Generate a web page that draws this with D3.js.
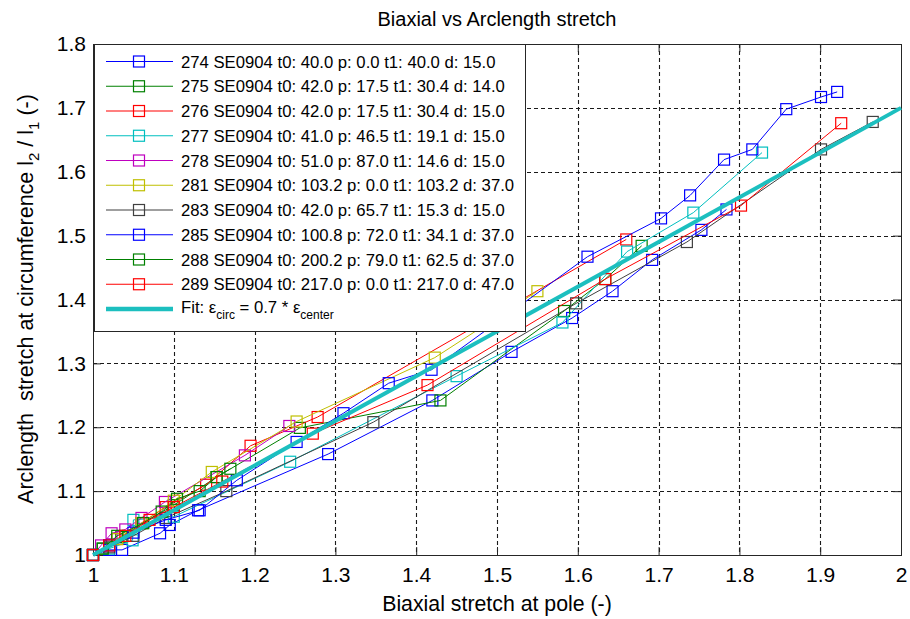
<!DOCTYPE html>
<html>
<head>
<meta charset="utf-8">
<script src="https://cdnjs.cloudflare.com/ajax/libs/d3/7.8.5/d3.min.js"></script>
<style>
  body { margin: 0; background: #fff; }
  text { font-family: "Liberation Sans", Arial, sans-serif; fill: #000; }
</style>
</head>
<body>
<svg id="chart"></svg>
<script>
var width = 910;
var height = 619;

// tick values
var xTicks = [1, 1.1, 1.2, 1.3, 1.4, 1.5, 1.6, 1.7, 1.8, 1.9, 2];
var yTicks = [1, 1.1, 1.2, 1.3, 1.4, 1.5, 1.6, 1.7, 1.8];

// legend labels, one per test
var seriesNames = [
  '274 SE0904 t0: 40.0 p: 0.0 t1: 40.0 d: 15.0',
  '275 SE0904 t0: 42.0 p: 17.5 t1: 30.4 d: 14.0',
  '276 SE0904 t0: 42.0 p: 17.5 t1: 30.4 d: 15.0',
  '277 SE0904 t0: 41.0 p: 46.5 t1: 19.1 d: 15.0',
  '278 SE0904 t0: 51.0 p: 87.0 t1: 14.6 d: 15.0',
  '281 SE0904 t0: 103.2 p: 0.0 t1: 103.2 d: 37.0',
  '283 SE0904 t0: 42.0 p: 65.7 t1: 15.3 d: 15.0',
  '285 SE0904 t0: 100.8 p: 72.0 t1: 34.1 d: 37.0',
  '288 SE0904 t0: 200.2 p: 79.0 t1: 62.5 d: 37.0',
  '289 SE0904 t0: 217.0 p: 0.0 t1: 217.0 d: 47.0'
];
var seriesColors = ['#0000ff', '#008000', '#ff0000', '#00bfbf', '#bf00bf',
  '#bfbf00', '#404040', '#0000ff', '#008000', '#ff0000'];

// biaxial stretch at pole (x) / arclength stretch at circumference (y)
var pole274 = [1.0, 1.02, 1.036, 1.083, 1.095, 1.13, 1.291, 1.42, 1.518, 1.593, 1.643, 1.692, 1.753, 1.784];
var circ274 = [1.0, 1.008, 1.008, 1.034, 1.047, 1.07, 1.158, 1.242, 1.318, 1.371, 1.413, 1.462, 1.509, 1.541];

var pole275 = [1.0, 1.012, 1.035, 1.062, 1.1, 1.153, 1.256, 1.43, 1.583, 1.634, 1.679];
var circ275 = [1.0, 1.01, 1.028, 1.05, 1.078, 1.122, 1.199, 1.242, 1.382, 1.432, 1.484];

var pole276 = [1.0, 1.03, 1.06, 1.09, 1.14, 1.195, 1.278, 1.66];
var circ276 = [1.0, 1.025, 1.05, 1.075, 1.11, 1.171, 1.216, 1.494];

var pole277 = [1.0, 1.02, 1.049, 1.05, 1.1, 1.244, 1.45, 1.581, 1.661, 1.743, 1.828];
var circ277 = [1.0, 1.01, 1.023, 1.055, 1.06, 1.146, 1.28, 1.364, 1.475, 1.536, 1.63];

var pole278 = [1.0, 1.01, 1.023, 1.04, 1.06, 1.089, 1.188, 1.243];
var circ278 = [1.0, 1.015, 1.034, 1.04, 1.058, 1.083, 1.156, 1.202];

var pole281 = [1.0, 1.03, 1.06, 1.1, 1.147, 1.252, 1.423, 1.55];
var circ281 = [1.0, 1.025, 1.05, 1.085, 1.13, 1.209, 1.309, 1.413];

var pole283 = [1.0, 1.02, 1.05, 1.09, 1.165, 1.347, 1.598, 1.735, 1.901, 1.965];
var circ283 = [1.0, 1.012, 1.03, 1.058, 1.1, 1.208, 1.394, 1.49, 1.635, 1.678];

var pole285 = [1.0, 1.02, 1.05, 1.09, 1.132, 1.178, 1.252, 1.31, 1.366, 1.419, 1.612, 1.703, 1.739, 1.781, 1.816, 1.858, 1.901, 1.921];
var circ285 = [1.0, 1.015, 1.035, 1.055, 1.07, 1.117, 1.177, 1.222, 1.269, 1.29, 1.467, 1.527, 1.563, 1.619, 1.635, 1.698, 1.717, 1.725];

var pole288 = [1.0, 1.012, 1.03, 1.062, 1.085, 1.104, 1.132, 1.153, 1.17];
var circ288 = [1.0, 1.01, 1.03, 1.05, 1.068, 1.088, 1.1, 1.122, 1.135];

var pole289 = [1.0, 1.02, 1.04, 1.07, 1.1, 1.16, 1.272, 1.414, 1.634, 1.802, 1.926];
var circ289 = [1.0, 1.015, 1.03, 1.055, 1.075, 1.115, 1.19, 1.266, 1.432, 1.547, 1.676];

// fit line: eps_circ = 0.7 * eps_center
var fitPole = [1.0, 2.0];
var fitCirc = [1.0, 1.7];

var poles = [pole274, pole275, pole276, pole277, pole278, pole281, pole283, pole285, pole288, pole289];
var circs = [circ274, circ275, circ276, circ277, circ278, circ281, circ283, circ285, circ288, circ289];

var series = seriesNames.map(function (name, i) {
  return {
    name: name,
    color: seriesColors[i],
    values: poles[i].map(function (p, j) { return { x: p, y: circs[i][j] }; })
  };
});

var plotLeft = 93, plotRight = 901, plotTop = 44, plotBottom = 555;

var svg = d3.select('#chart').attr('width', width).attr('height', height);
svg.append('rect').attr('width', width).attr('height', height).attr('fill', '#fff');

var x = d3.scaleLinear().domain([1, 2]).range([plotLeft, plotRight]);
var y = d3.scaleLinear().domain([1, 1.8]).range([plotBottom, plotTop]);

// grid
var grid = svg.append('g')
  .attr('stroke', '#1a1a1a')
  .attr('stroke-width', 1.1)
  .attr('stroke-dasharray', '4,3');
grid.selectAll('.vg').data(xTicks.slice(1, -1)).enter().append('line')
  .attr('x1', d => Math.round(x(d)) + 0.5).attr('x2', d => Math.round(x(d)) + 0.5)
  .attr('y1', plotTop).attr('y2', plotBottom);
grid.selectAll('.hg').data(yTicks.slice(1, -1)).enter().append('line')
  .attr('y1', d => Math.round(y(d)) + 0.5).attr('y2', d => Math.round(y(d)) + 0.5)
  .attr('x1', plotLeft).attr('x2', plotRight);

// axes, ticks pointing inward on all four sides
function styleAxis(g) {
  g.select('.domain').remove();
  g.selectAll('.tick line').attr('stroke', '#262626');
  g.selectAll('.tick text')
    .style('font-family', '"Liberation Sans", Arial, sans-serif')
    .style('font-size', '21px')
    .attr('fill', '#000');
}

svg.append('g').attr('transform', 'translate(0,' + plotBottom + ')')
  .call(d3.axisBottom(x).tickValues(xTicks).tickFormat(d3.format('')).tickSizeInner(-8).tickSizeOuter(0).tickPadding(12))
  .call(styleAxis);
svg.append('g').attr('transform', 'translate(0,' + plotTop + ')')
  .call(d3.axisTop(x).tickValues(xTicks).tickFormat('').tickSizeInner(-8).tickSizeOuter(0))
  .call(styleAxis);
svg.append('g').attr('transform', 'translate(' + plotLeft + ',0)')
  .call(d3.axisLeft(y).tickValues(yTicks).tickFormat(d3.format('')).tickSizeInner(-8).tickSizeOuter(0).tickPadding(7))
  .call(styleAxis);
svg.append('g').attr('transform', 'translate(' + plotRight + ',0)')
  .call(d3.axisRight(y).tickValues(yTicks).tickFormat('').tickSizeInner(-8).tickSizeOuter(0))
  .call(styleAxis);

svg.append('rect')
  .attr('x', plotLeft + 0.5).attr('y', plotTop + 0.5)
  .attr('width', plotRight - plotLeft).attr('height', plotBottom - plotTop)
  .attr('fill', 'none').attr('stroke', '#262626').attr('stroke-width', 1);

// data
var line = d3.line().x(d => x(d.x)).y(d => y(d.y));
var plot = svg.append('g');
var groups = plot.selectAll('.series').data(series).enter().append('g');
groups.append('path')
  .attr('d', d => line(d.values))
  .attr('fill', 'none')
  .attr('stroke', d => d.color)
  .attr('stroke-width', 1);
groups.each(function (s) {
  d3.select(this).selectAll('rect').data(s.values).enter().append('rect')
    .attr('x', d => x(d.x) - 5.5).attr('y', d => y(d.y) - 5.5)
    .attr('width', 11).attr('height', 11)
    .attr('fill', 'none').attr('stroke', s.color).attr('stroke-width', 1.2);
});

var fitData = fitPole.map((p, i) => ({ x: p, y: fitCirc[i] }));
plot.append('path')
  .attr('d', line(fitData))
  .attr('fill', 'none').attr('stroke', '#1cbfbf').attr('stroke-width', 4);

// legend
var legend = svg.append('g');
legend.append('rect')
  .attr('x', 94.5).attr('y', 44.5).attr('width', 431).attr('height', 287)
  .attr('fill', '#fff').attr('stroke', '#262626');
var rowY = d3.scaleLinear().domain([0, 10]).range([61.5, 309]);
var rows = legend.selectAll('.row').data(series).enter().append('g')
  .attr('transform', (d, i) => 'translate(0,' + rowY(i) + ')');
rows.append('line').attr('x1', 106).attr('x2', 173)
  .attr('stroke', d => d.color).attr('stroke-width', 1.2);
rows.append('rect').attr('x', 133.5).attr('y', -5.5).attr('width', 11).attr('height', 11)
  .attr('fill', 'none').attr('stroke', d => d.color).attr('stroke-width', 1.2);
rows.append('text').attr('x', 181).attr('y', 6)
  .style('font-size', '16.7px')
  .text(d => d.name);

var fitRow = legend.append('g').attr('transform', 'translate(0,' + rowY(10) + ')');
fitRow.append('line').attr('x1', 106).attr('x2', 173)
  .attr('stroke', '#1cbfbf').attr('stroke-width', 4.5);
var fitText = fitRow.append('text').attr('x', 181).attr('y', 4).style('font-size', '16.7px');
fitText.append('tspan').text('Fit: \u03b5');
fitText.append('tspan').attr('dy', 6).style('font-size', '12px').text('circ');
fitText.append('tspan').attr('dy', -6).text(' = 0.7 * \u03b5');
fitText.append('tspan').attr('dy', 6).style('font-size', '12px').text('center');

// title and axis labels
svg.append('text').attr('x', 497).attr('y', 26).attr('text-anchor', 'middle')
  .style('font-size', '20px').text('Biaxial vs Arclength stretch');
svg.append('text').attr('x', 497).attr('y', 611).attr('text-anchor', 'middle')
  .style('font-size', '21.3px').text('Biaxial stretch at pole (-)');
var yLabel = svg.append('text')
  .attr('transform', 'translate(33,' + 299 + ') rotate(-90)')
  .attr('text-anchor', 'middle')
  .style('font-size', '21.5px')
  .attr('xml:space', 'preserve');
yLabel.append('tspan').text('Arclength  stretch at circumference l');
yLabel.append('tspan').attr('dy', 6).style('font-size', '15px').text('2');
yLabel.append('tspan').attr('dy', -6).text(' / l');
yLabel.append('tspan').attr('dy', 6).style('font-size', '15px').text('1');
yLabel.append('tspan').attr('dy', -6).text(' (-)');
</script>
</body>
</html>
